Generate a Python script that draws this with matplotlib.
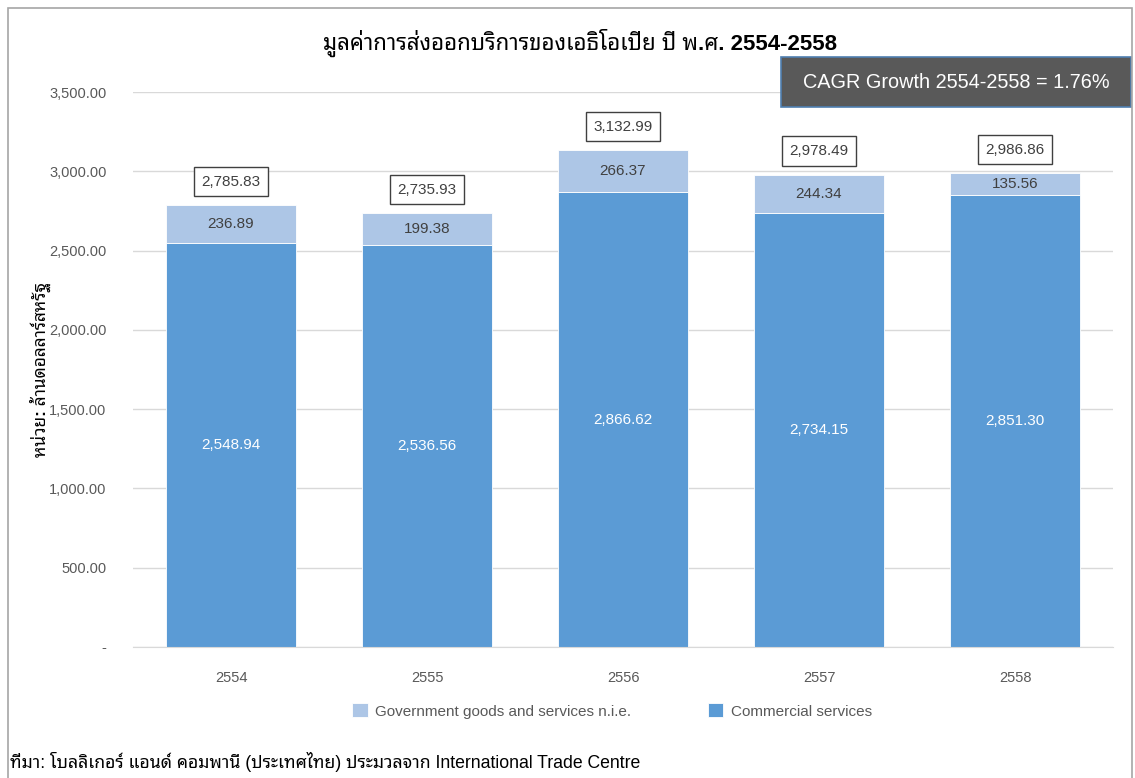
import matplotlib
matplotlib.use("Agg")
import matplotlib.pyplot as plt
from matplotlib.patches import Rectangle
from matplotlib.ticker import FuncFormatter

plt.rcParams['font.family'] = ['Liberation Sans', 'Noto Sans Thai Looped', 'Sarabun', 'Krub',
                               'K2D', 'Bai Jamjuree', 'Noto Sans Thai', 'DejaVu Sans']

# data
years = ['2554', '2555', '2556', '2557', '2558']
commercial = [2548.94, 2536.56, 2866.62, 2734.15, 2851.30]
government = [236.89, 199.38, 266.37, 244.34, 135.56]
totals = [2785.83, 2735.93, 3132.99, 2978.49, 2986.86]

c_comm = '#5b9bd5'
c_gov = '#adc6e6'
grey = '#595959'

fig = plt.figure(figsize=(11.35, 7.78), dpi=100)
ax = fig.add_axes([133 / 1135, 1 - 647 / 778, 980 / 1135, 555 / 778])

x = range(len(years))
b1 = ax.bar(x, commercial, width=0.66, color=c_comm, edgecolor='white', linewidth=0.6,
            label='Commercial services', zorder=2)
b2 = ax.bar(x, government, width=0.66, bottom=commercial, color=c_gov, edgecolor='white',
            linewidth=0.6, label='Government goods and services n.i.e.', zorder=2)

for i in x:
    ax.text(i, commercial[i] / 2, f'{commercial[i]:,.2f}', ha='center', va='center',
            color='white', fontsize=11)
    ax.text(i, commercial[i] + government[i] / 2, f'{government[i]:,.2f}', ha='center',
            va='center', color='#404040', fontsize=11)
    ax.annotate(f'{totals[i]:,.2f}', (i, totals[i]), xytext=(0, 17), textcoords='offset points',
                ha='center', va='center', fontsize=11, color='#404040',
                bbox=dict(boxstyle='square,pad=0.5', fc='white', ec='#404040', lw=1))

ax.set_xlim(-0.5, 4.5)
ax.set_ylim(0, 3500)
ax.set_yticks(range(0, 3501, 500))
ax.yaxis.set_major_formatter(FuncFormatter(lambda v, p: '-' if v == 0 else f'{v:,.2f}'))
ax.set_xticks(list(x))
ax.set_xticklabels(years)
ax.tick_params(axis='both', length=0, colors=grey, labelsize=10.5)
ax.tick_params(axis='x', pad=17)
ax.tick_params(axis='y', pad=19)
ax.grid(axis='y', color='#d9d9d9', linewidth=1, zorder=0)
ax.set_axisbelow(True)
for s in ['top', 'right', 'left']:
    ax.spines[s].set_visible(False)
ax.spines['bottom'].set_color('#d9d9d9')

ax.set_ylabel('หน่วย: ล้านดอลลาร์สหรัฐ', fontsize=12.5, fontweight='bold', color='black')
ax.yaxis.set_label_coords(-82 / 980, 0.5)

fig.text(580 / 1135, 1 - 43 / 778, 'มูลค่าการส่งออกบริการของเอธิโอเปีย ปี พ.ศ. 2554-2558',
         ha='center', va='center', fontsize=16, fontweight='bold')

fig.legend(handles=[b2, b1], loc='center', bbox_to_anchor=(612 / 1135, 1 - 711 / 778),
           ncol=2, frameon=False, fontsize=11, labelcolor=grey, handlelength=1,
           handleheight=1, columnspacing=5, handletextpad=0.5)

# CAGR box
fig.add_artist(Rectangle((781 / 1135, 1 - 107 / 778), 350 / 1135, 50 / 778,
                         transform=fig.transFigure, fc=grey, ec='#4f7fb0', lw=1.2))
fig.text(956 / 1135, 1 - 82 / 778, 'CAGR Growth 2554-2558 = 1.76%', ha='center',
         va='center', color='white', fontsize=14.3)

fig.text(10 / 1135, 1 - 762 / 778,
         'ที่มา: โบลลิเกอร์ แอนด์ คอมพานี (ประเทศไทย) ประมวลจาก International Trade Centre',
         ha='left', va='center', fontsize=12.7)

# outer frame
fig.add_artist(Rectangle((8 / 1135, -0.01), 1124 / 1135, 1 - 8 / 778 + 0.01,
                         transform=fig.transFigure, fill=False, ec='#a6a6a6', lw=1.2))

fig.savefig('out.png', dpi=100)
